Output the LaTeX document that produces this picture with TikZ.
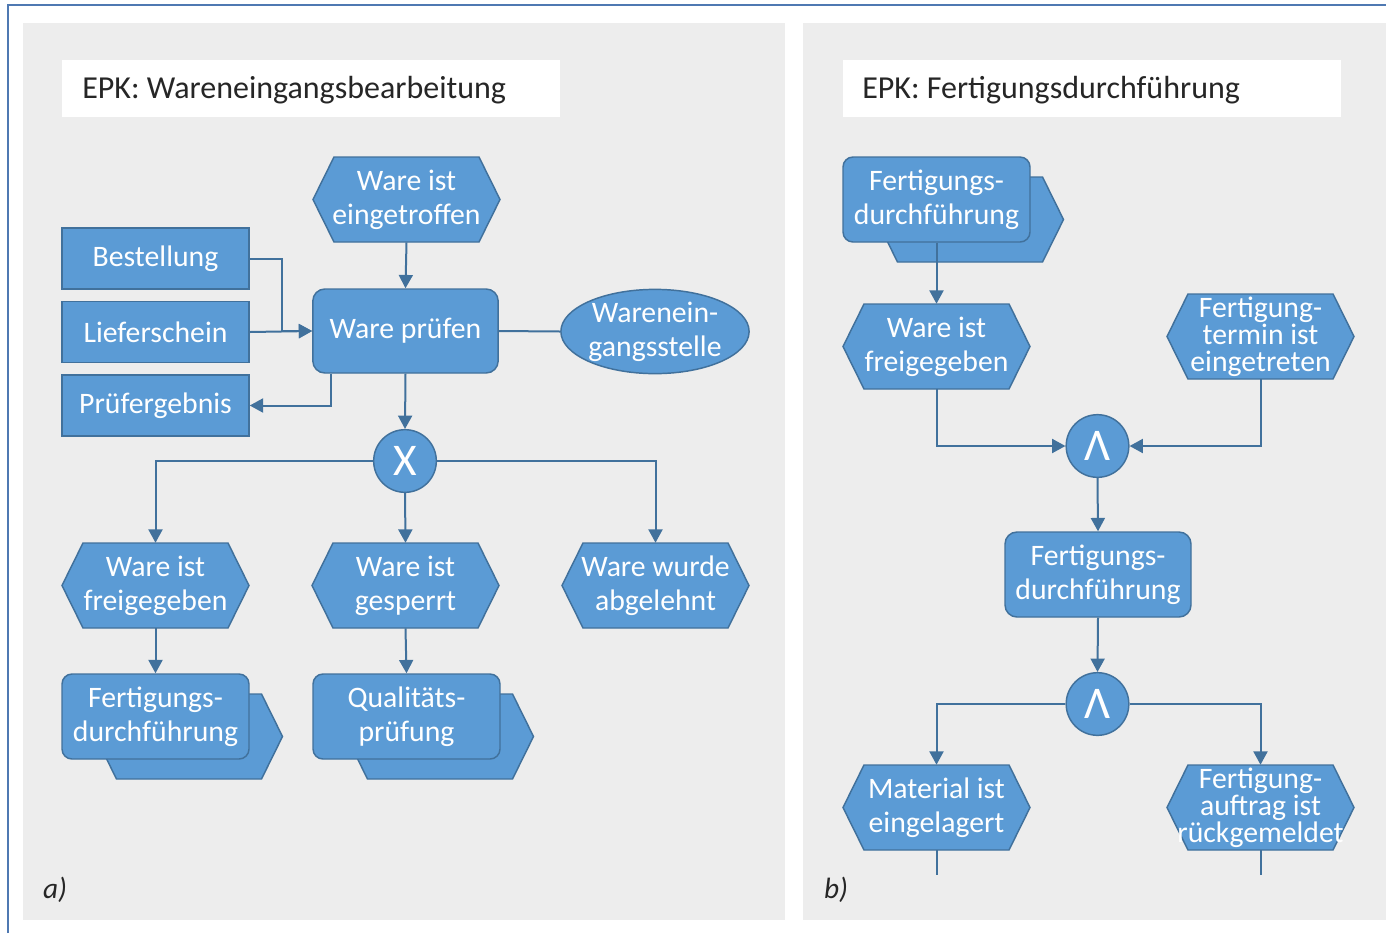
\documentclass[tikz,border=0pt]{standalone}
\usepackage{fontspec}
\setmainfont{Carlito}
\usetikzlibrary{arrows.meta,shapes.geometric,calc}
\definecolor{epkfill}{HTML}{5B9BD5}
\definecolor{epkline}{HTML}{41719C}
\definecolor{panelgray}{HTML}{EDEDED}
\definecolor{framecol}{HTML}{4F79B2}
\definecolor{titletext}{HTML}{262626}
\newcommand\fsnode{\fontsize{22.3}{25.5}\selectfont}
\newcommand\fstight{\fontsize{22.3}{20.2}\selectfont}
\newcommand\EvHex[4]{%
  \draw[shapeB] (#2,#3) ++(-93.5,0) -- ++(21,-42.5) -- ++(145,0) -- ++(21,42.5) -- ++(-21,42.5) -- ++(-145,0) -- cycle;
  \node[txt, minimum width=140.25pt, minimum height=63.75pt] (#1) at (#2,#3) {#4};}
\newcommand\EvHexT[4]{%
  \draw[shapeB] (#2,#3) ++(-93.5,0) -- ++(21,-42.5) -- ++(145,0) -- ++(21,42.5) -- ++(-21,42.5) -- ++(-145,0) -- cycle;
  \node[txt, font=\fstight, minimum width=140.25pt, minimum height=63.75pt] (#1) at (#2,#3) {#4};}
\newcommand\ProcPath[4]{%
  \draw[shapeB] (#2,#3) ++(-60,20) -- ++(21,-42.5) -- ++(145,0) -- ++(21,42.5) -- ++(-21,42.5) -- ++(-145,0) -- cycle;
  \node[txt, shapeB, rounded corners=7.5pt, minimum width=140.25pt, minimum height=63.75pt] (#1) at (#2,#3) {#4};}
\begin{document}
\begin{tikzpicture}[x=0.75pt,y=-0.75pt,
  shapeB/.style={fill=epkfill, draw=epkline, line width=1.1pt},
  txt/.style={text=white, font=\fsnode, align=center, inner sep=0pt},
  datarect/.style={txt, shapeB, minimum width=140.25pt, minimum height=45.75pt},
  fnbox/.style={txt, shapeB, rounded corners=9pt, minimum width=139pt, minimum height=63pt},
  orgunit/.style={txt, shapeB, ellipse, minimum width=139.5pt, minimum height=62.25pt},
  gate/.style={shapeB, circle, minimum size=47pt, inner sep=0pt, text=white, font=\fontsize{34}{34}\selectfont},
  conn/.style={draw=epkline, line width=1.5pt},
  arr/.style={conn, -{Triangle[length=10pt,width=10.5pt]}},
  title/.style={anchor=west, text=titletext, font=\fontsize{24}{28}\selectfont, inner sep=0pt},
  plabel/.style={text=titletext, font=\fontsize{22}{25}\selectfont\itshape, inner sep=0pt}
]
\useasboundingbox (0,0) rectangle (1386,933);
\fill[white] (0,0) rectangle (1386,933);
% frame and panels
\draw[framecol, line width=1.5pt] (8,933) -- (8,5) -- (1386,5);
\fill[panelgray] (23,23) rectangle (785,920);
\fill[panelgray] (803,23) rectangle (1386,920);
\fill[white] (62,60) rectangle (560,117);
\fill[white] (843,60) rectangle (1341,117);
\node[title] (t1) at (82,90) {EPK: Wareneingangsbearbeitung};
\node[title] (t2) at (862,90) {EPK: Fertigungsdurchführung};
\node[plabel] (la) at (55,890) {a)};
\node[plabel] (lb) at (836,890) {b)};

% ---------- panel a ----------
\EvHex{e1}{406.5}{199.5}{Ware ist\\eingetroffen}
\node[datarect] (best) at (155.5,258.5) {Bestellung};
\node[datarect] (lief) at (155.5,332) {Lieferschein};
\node[datarect] (pruef) at (155.5,405.5) {Prüfergebnis};
\node[fnbox] (wp) at (405.5,331) {Ware prüfen};
\node[orgunit] (wes) at (655,331.5) {Warenein-\\gangsstelle};
\node[gate] (xor) at (405,461) {X};
\EvHex{ev2}{155.5}{585.5}{Ware ist\\freigegeben}
\EvHex{ev3}{405.5}{585.5}{Ware ist\\gesperrt}
\EvHex{ev4}{655.5}{585.5}{Ware wurde\\abgelehnt}
\ProcPath{pp1}{155.5}{716.5}{Fertigungs-\\durchführung}
\ProcPath{pp2}{406.5}{716.5}{Qualitäts-\\prüfung}

\draw[arr] (e1.south) -- (wp.north);
\draw[arr] (best.east) -- ++(32,0) |- (wp.west);
\draw[arr] (lief.east) -- (wp.west);
\draw[arr] ($(wp.south west)+(19,0)$) |- (pruef.east);
\draw[conn] (wp.east) -- (wes.west);
\draw[arr] (wp.south) -- (xor.north);
\draw[arr] (xor.west) -| (ev2.north);
\draw[arr] (xor.south) -- (ev3.north);
\draw[arr] (xor.east) -| (ev4.north);
\draw[arr] (ev2.south) -- (pp1.north);
\draw[arr] (ev3.south) -- (pp2.north);

% ---------- panel b ----------
\ProcPath{pp3}{936.5}{199.5}{Fertigungs-\\durchführung}
\EvHex{r1}{936.5}{346.5}{Ware ist\\freigegeben}
\EvHexT{r2}{1260.5}{336.5}{Fertigung-\\termin ist\\eingetreten}
\node[gate] (and1) at (1097.5,446) {Λ};
\node[fnbox, minimum width=139.5pt, minimum height=63.75pt] (fn) at (1098,574.5) {Fertigungs-\\durchführung};
\node[gate] (and2) at (1097.5,704) {Λ};
\EvHex{r3}{936.5}{807.5}{Material ist\\eingelagert}
\EvHexT{r4}{1260.5}{807.5}{Fertigung-\\auftrag ist\\rückgemeldet}
\coordinate (end1) at (936.5,875);
\coordinate (end2) at (1260.5,875);

\draw[arr] (pp3.south) -- (r1.north);
\draw[arr] (r1.south) |- (and1.west);
\draw[arr] (r2.south) |- (and1.east);
\draw[arr] (and1.south) -- (fn.north);
\draw[arr] (fn.south) -- (and2.north);
\draw[arr] (and2.west) -| (r3.north);
\draw[arr] (and2.east) -| (r4.north);
\draw[conn] (r3.south) -- (end1);
\draw[conn] (r4.south) -- (end2);
\end{tikzpicture}
\end{document}
